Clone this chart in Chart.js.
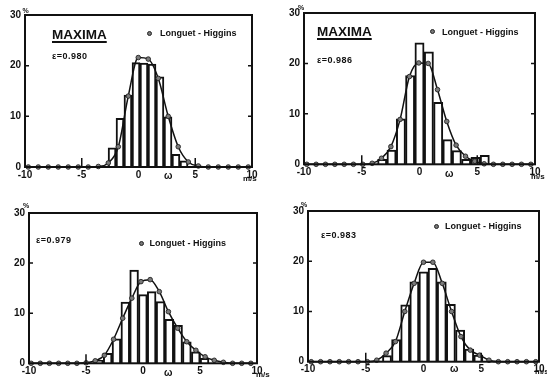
<!DOCTYPE html>
<html><head><meta charset="utf-8">
<script src="https://cdn.jsdelivr.net/npm/chart.js@4.4.0/dist/chart.umd.min.js"></script>
<style>
html,body{margin:0;padding:0;background:#fff;}
body{width:547px;height:383px;position:relative;overflow:hidden;font-family:"Liberation Sans",Arial,sans-serif;color:#111;}
canvas{position:absolute;}
.t{position:absolute;white-space:nowrap;font-weight:bold;line-height:1;}
.max{font-size:13.5px;text-decoration:underline;text-decoration-thickness:1.5px;text-underline-offset:1.5px;}
.eps{font-size:9px;letter-spacing:0.5px;}
.leg{font-size:9px;}
.dot{position:absolute;box-sizing:border-box;width:5px;height:5px;border-radius:50%;background:#777;border:1px solid #222;}
.pct{font-size:7px;}
.unit{font-size:8px;}
.u{font-size:10px;}
</style></head><body>
<script>
// ---- data ----
const xTickLabels = [-10, -5, 0, 5, 10];
const yTickLabels = [0, 10, 20, 30];
const xInnerTicks = [-5, 5];
const yInnerTicks = [10, 20];
const legendLabel = "Longuet - Higgins";

// panel 1 (top-left)
const p1BinX = [-2.33, -1.63, -0.93, -0.22, 0.48, 1.19, 1.89, 2.60, 3.30, 4.01];
const p1Bars = [3.8, 9.6, 14.2, 20.6, 20.5, 20.3, 17.8, 9.9, 2.5, 1.2];
const p1CurveX = [-9.71,-8.83,-7.95,-7.07,-6.19,-5.31,-4.43,-3.54,-2.66,-1.78,-0.90,-0.02,0.86,1.74,2.62,3.50,4.39,5.27,6.15,7.03,7.91,8.79,9.67];
const p1CurveY = [0,0,0,0,0,0,0,0.1,0.8,4.0,14.0,21.6,21.3,17.5,10.0,4.0,1.0,0.2,0,0,0,0,0];

// panel 2 (top-right)
const p2BinX = [-3.23, -2.42, -1.61, -0.81, 0.00, 0.81, 1.62, 2.42, 3.23, 4.04, 4.85, 5.65];
const p2Bars = [1.0, 2.8, 9.0, 17.6, 24.1, 22.3, 12.3, 4.9, 2.7, 1.0, 1.4, 1.8];
const p2CurveX = [-9.76,-8.95,-8.14,-7.33,-6.52,-5.72,-4.91,-4.10,-3.29,-2.48,-1.68,-0.87,-0.06,0.75,1.56,2.36,3.17,3.98,4.79,5.60,6.40,7.21,8.02,8.83,9.64];
const p2CurveY = [0,0,0,0,0,0,0,0.2,1.2,3.5,8.9,17.4,20.1,20.0,14.8,8.5,3.8,1.6,0.6,0.1,0,0,0,0,0];

// panel 3 (bottom-left)
const p3BinX = [-3.87, -3.10, -2.33, -1.55, -0.78, -0.01, 0.76, 1.54, 2.31, 3.08, 3.85, 4.63, 5.40];
const p3Bars = [0.6, 2.0, 4.9, 12.2, 18.6, 13.7, 14.3, 12.3, 8.8, 7.6, 4.3, 2.3, 1.0];
const p3CurveX = [-9.81,-9.01,-8.21,-7.40,-6.60,-5.80,-4.99,-4.19,-3.39,-2.58,-1.78,-0.98,-0.18,0.63,1.43,2.23,3.04,3.84,4.64,5.45,6.25,7.05,7.86,8.66,9.46];
const p3CurveY = [0,0,0,0,0,0,0.1,0.5,1.6,4.8,9.0,13.0,16.3,16.7,14.3,10.3,7.0,4.3,2.6,1.3,0.6,0.2,0,0,0];

// panel 4 (bottom-right)
const p4BinX = [-3.16, -2.37, -1.58, -0.79, 0.00, 0.79, 1.58, 2.37, 3.17, 3.96, 4.75];
const p4Bars = [1.2, 4.4, 11.3, 15.9, 17.9, 18.6, 15.9, 11.4, 6.3, 2.5, 1.3];
const p4CurveX = [-9.72,-8.91,-8.10,-7.29,-6.48,-5.67,-4.86,-4.05,-3.24,-2.43,-1.62,-0.81,0,0.81,1.62,2.43,3.24,4.05,4.86,5.67,6.48,7.29,8.10,8.91,9.72];
const p4CurveY = [0,0,0,0,0,0,0,0.3,1.7,4.0,10.0,15.6,19.8,19.8,15.6,10.0,5.0,2.3,1.3,0.3,0,0,0,0,0];

// ---- layout (page pixels) ----
const panels = [
  {x0:0,   y0:0,   w:273, h:190, L:25,  R:252, T:15,  B:167,   binX:p1BinX, bars:p1Bars, cx:p1CurveX, cy:p1CurveY},
  {x0:273, y0:0,   w:274, h:190, L:304, R:535, T:13,  B:164.3, binX:p2BinX, bars:p2Bars, cx:p2CurveX, cy:p2CurveY},
  {x0:0,   y0:190, w:273, h:193, L:29,  R:257, T:213, B:363.3, binX:p3BinX, bars:p3Bars, cx:p3CurveX, cy:p3CurveY},
  {x0:273, y0:190, w:274, h:193, L:308, R:539, T:211, B:361.7, binX:p4BinX, bars:p4Bars, cx:p4CurveX, cy:p4CurveY}
];

const FONT = '"Liberation Sans", Arial, sans-serif';

const framePlugin = {
  id: 'frame',
  afterDraw(chart) {
    const {ctx, chartArea: a, scales: {x, y}} = chart;
    ctx.save();
    ctx.strokeStyle = '#111';
    ctx.lineWidth = 2;
    ctx.strokeRect(a.left, a.top, a.right - a.left, a.bottom - a.top);
    ctx.lineWidth = 1.5;
    ctx.beginPath();
    xInnerTicks.forEach(v => {
      const px = x.getPixelForValue(v);
      ctx.moveTo(px, a.bottom); ctx.lineTo(px, a.bottom - 9);
    });
    yInnerTicks.forEach(v => {
      const py = y.getPixelForValue(v);
      ctx.moveTo(a.left, py); ctx.lineTo(a.left + 4, py);
      ctx.moveTo(a.right, py); ctx.lineTo(a.right - 4, py);
    });
    ctx.stroke();
    ctx.restore();
  }
};

function makePanel(p) {
  const cv = document.createElement('canvas');
  cv.width = p.w; cv.height = p.h;
  cv.style.left = p.x0 + 'px'; cv.style.top = p.y0 + 'px';
  cv.style.width = p.w + 'px'; cv.style.height = p.h + 'px';
  document.body.appendChild(cv);
  const left = p.L - p.x0, top = p.T - p.y0, right = p.R - p.x0, bottom = p.B - p.y0;
  new Chart(cv, {
    type: 'line',
    data: {
      datasets: [
        {
          type: 'line', label: legendLabel,
          data: p.cx.map((x, i) => ({x: x, y: p.cy[i]})),
          borderColor: '#111', borderWidth: 1.5,
          cubicInterpolationMode: 'monotone', fill: false,
          pointRadius: 2.3, pointBackgroundColor: '#7a7a7a',
          pointBorderColor: '#222', pointBorderWidth: 0.9,
          order: 0, clip: false
        },
        {
          type: 'bar', label: 'histogram',
          data: p.binX.map((x, i) => ({x: x, y: p.bars[i]})),
          backgroundColor: '#fff', borderColor: '#111', borderWidth: 2,
          barPercentage: 1, categoryPercentage: 1,
          order: 1
        }
      ]
    },
    options: {
      responsive: false, animation: false, devicePixelRatio: 1,
      layout: {padding: {left: 0, top: top, right: p.w - right, bottom: 0}},
      plugins: {legend: {display: false}, tooltip: {enabled: false}},
      scales: {
        x: {
          type: 'linear', min: -10, max: 10, offset: false,
          grid: {display: false, drawTicks: false, offset: false}, border: {display: false},
          afterBuildTicks: s => { s.ticks = xTickLabels.map(v => ({value: v})); },
          afterFit: s => { s.height = p.h - bottom; },
          ticks: {font: {family: FONT, size: 10, weight: 'bold'}, color: '#111', padding: 2, maxRotation: 0, autoSkip: false}
        },
        y: {
          type: 'linear', min: 0, max: 30,
          grid: {display: false, drawTicks: false}, border: {display: false},
          afterBuildTicks: s => { s.ticks = yTickLabels.map(v => ({value: v})); },
          afterFit: s => { s.width = left; },
          ticks: {font: {family: FONT, size: 10, weight: 'bold'}, color: '#111', padding: 4}
        }
      }
    },
    plugins: [framePlugin]
  });
}
panels.forEach(makePanel);

// ---- annotations ----
const notes = [
  ['t max', 'MAXIMA', 52, 28.2],
  ['t eps', 'ε=0.980', 52, 52],
  ['t leg', legendLabel, 160, 28.6],
  ['t pct', '%', 22.5, 7],
  ['t unit', 'm/s', 243, 175],
  ['t u', 'ω', 164, 171],

  ['t max', 'MAXIMA', 317, 25.2],
  ['t eps', 'ε=0.986', 317, 56],
  ['t leg', legendLabel, 442, 27.6],
  ['t pct', '%', 298, 4],
  ['t unit', 'm/s', 531, 173],
  ['t u', 'ω', 445, 169],

  ['t eps', 'ε=0.979', 36, 236],
  ['t leg', legendLabel, 149.5, 238.6],
  ['t pct', '%', 23, 202],
  ['t unit', 'm/s', 256, 371],
  ['t u', 'ω', 164, 367.5],

  ['t eps', 'ε=0.983', 321, 231],
  ['t leg', legendLabel, 445, 221.6],
  ['t pct', '%', 301, 201],
  ['t unit', 'm/s', 535, 368],
  ['t u', 'ω', 450, 364]
];
notes.forEach(([cls, txt, x, y]) => {
  const d = document.createElement('div');
  d.className = cls; d.textContent = txt;
  d.style.left = x + 'px'; d.style.top = y + 'px';
  document.body.appendChild(d);
});
const dots = [[149.3, 33.3], [432.3, 31.7], [141.7, 243.3], [436.3, 226]];
dots.forEach(([x, y]) => {
  const d = document.createElement('div');
  d.className = 'dot';
  d.style.left = (x - 2.5) + 'px'; d.style.top = (y - 2.5) + 'px';
  document.body.appendChild(d);
});
</script>
</body></html>
